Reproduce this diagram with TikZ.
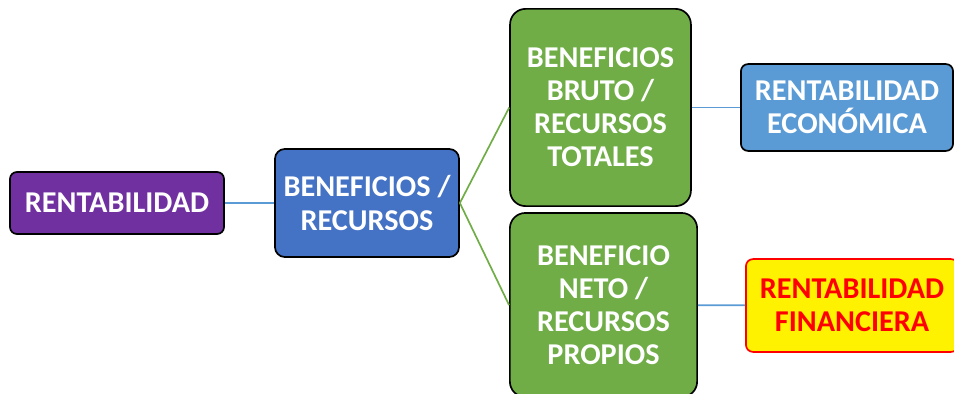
\documentclass[tikz,border=0pt]{standalone}
\usepackage{fontspec}
\setmainfont{Carlito}
\definecolor{boxPurple}{HTML}{7030A0}
\definecolor{boxBlue}{HTML}{4472C4}
\definecolor{boxGreen}{HTML}{70AD47}
\definecolor{boxSky}{HTML}{5B9BD5}
\tikzset{
  ratioBox/.style={rectangle, rounded corners=5pt, draw=black, line width=1.2pt, text=white, align=center, inner sep=0pt, font=\fontsize{21.5}{23.5}\selectfont\bfseries},
  linkSky/.style={boxSky, line width=1.2pt},
  linkGreen/.style={boxGreen, line width=1.2pt}
}
\begin{document}
\begin{tikzpicture}[x=0.025cm, y=-0.025cm]
		
		\useasboundingbox (0,0) rectangle (954,394);
		
		% Main concept
		\node (rentab) at (117,203) [ratioBox, fill=boxPurple, minimum width=5.35cm, minimum height=1.55cm]{RENTABILIDAD};
		\node (benRec) at (367,203) [ratioBox, fill=boxBlue, minimum width=4.6cm, minimum height=2.7cm, rounded corners=7pt]{BENEFICIOS /\\RECURSOS};
		
		% Ratios
		\node (brutoTot) at (600.5,107.5) [ratioBox, fill=boxGreen, minimum width=4.52cm, minimum height=4.93cm, rounded corners=11pt]{BENEFICIOS\\BRUTO /\\RECURSOS\\TOTALES};
		\node (netoProp) at (603.5,305) [ratioBox, fill=boxGreen, minimum width=4.68cm, minimum height=4.6cm, rounded corners=11pt]{BENEFICIO\\NETO /\\RECURSOS\\PROPIOS};
		
		% Results
		\node (rentEco) at (847,107.5) [ratioBox, fill=boxSky, minimum width=5.3cm, minimum height=2.17cm]{RENTABILIDAD\\ECONÓMICA};
		\node (rentFin) at (852,305.5) [ratioBox, fill=yellow, draw=red, text=red, minimum width=5.3cm, minimum height=2.32cm]{RENTABILIDAD\\FINANCIERA};
		
		% Links
		\draw[linkSky] (rentab) -- (benRec);
		\draw[linkGreen] (benRec.east) -- (brutoTot.west);
		\draw[linkGreen] (benRec.east) -- (netoProp.west);
		\draw[linkSky] (brutoTot) -- (rentEco);
		\draw[linkSky] (netoProp) -- (rentFin);
		
\end{tikzpicture}
\end{document}
